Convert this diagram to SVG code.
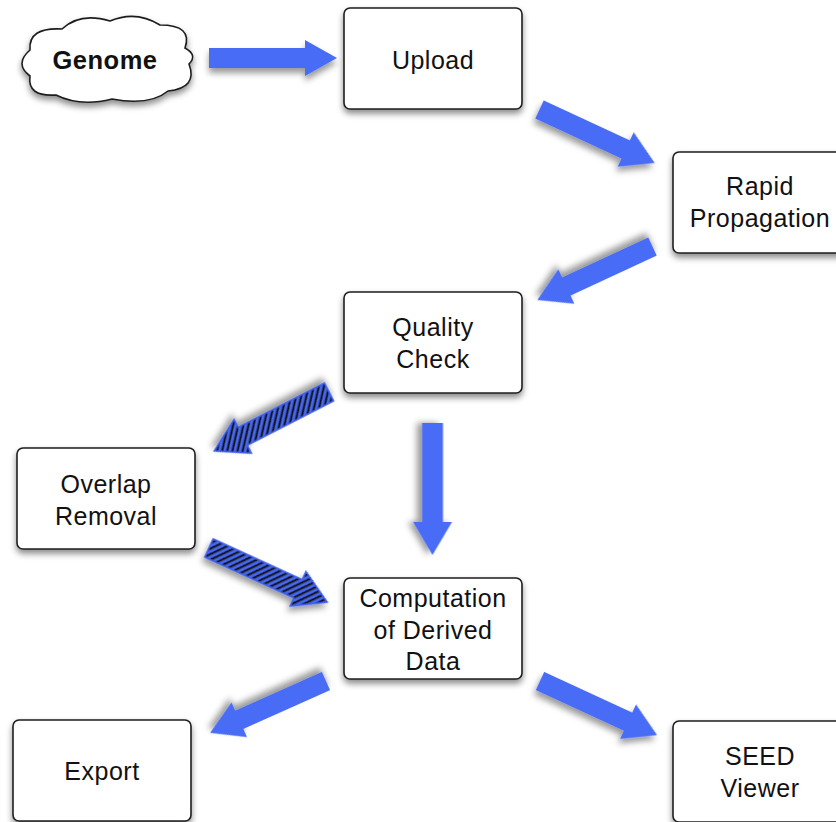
<svg xmlns="http://www.w3.org/2000/svg" width="836" height="822" viewBox="0 0 836 822">
<style>
.box{fill:#fff;stroke:#1e1e1e;stroke-width:1.6;filter:url(#sh)}
.lbl{font-family:"Liberation Sans",Arial,sans-serif;font-size:25px;letter-spacing:0.5px;fill:#111;text-anchor:middle}
.bold{font-weight:bold;font-size:25.5px}
.arr{fill:#4a6cf7;filter:url(#ash)}
.hat{fill:url(#hatch);stroke:#3a5cf0;stroke-width:1.5;filter:url(#ash)}
</style>
<defs>
<filter id="sh" x="-20%" y="-20%" width="140%" height="150%">
<feDropShadow dx="0" dy="4" stdDeviation="3" flood-color="#000" flood-opacity="0.45"/>
</filter>
<filter id="ash" x="-20%" y="-40%" width="140%" height="180%">
<feDropShadow dx="0" dy="5" stdDeviation="3" flood-color="#000" flood-opacity="0.4"/>
</filter>
<pattern id="hatch" width="5" height="5" patternUnits="userSpaceOnUse" patternTransform="rotate(40)">
<rect width="5" height="5" fill="#4a6cf7"/>
<rect width="2.3" height="5" fill="#111"/>
</pattern>
</defs>
<rect width="836" height="822" fill="#fff"/>
<g id="connectors">
<polygon class="arr" points="0,-10 96,-10 96,-18 128,0 96,18 96,10 0,10" transform="translate(209,58)"/>
<polygon class="arr" points="0,-10 95,-10 95,-19 127,0 95,19 95,10 0,10" transform="translate(539.5,109.5) rotate(24.9)"/>
<polygon class="arr" points="0,-10 95,-10 95,-19 127,0 95,19 95,10 0,10" transform="translate(652.5,246.5) rotate(155.1)"/>
<polygon class="hat" points="0,-10 97,-10 97,-19 129,0 97,19 97,10 0,10" transform="translate(329,392) rotate(152.8)"/>
<polygon class="arr" points="0,-10.5 99,-10.5 99,-19.5 132,0 99,19.5 99,10.5 0,10.5" transform="translate(432.5,423) rotate(90)"/>
<polygon class="hat" points="0,-10 98,-10 98,-19 130,0 98,19 98,10 0,10" transform="translate(209,548) rotate(24.6)"/>
<polygon class="arr" points="0,-10 95,-10 95,-19 127,0 95,19 95,10 0,10" transform="translate(326,681) rotate(155.9)"/>
<polygon class="arr" points="0,-10 97,-10 97,-19 129,0 97,19 97,10 0,10" transform="translate(540,681) rotate(24.8)"/>
</g>
<g id="genome">
<path class="box" d="M30,50 Q28,27 62,29 Q80,12 110,21 Q136,10 160,25 Q193,25 185,48 Q198,55 189,64 Q198,88 168,91 Q150,106 112,99 Q80,107 56,95 Q27,97 30,76 Q14,64 30,50 Z"/>
<text class="lbl bold" x="105" y="69">Genome</text>
</g>
<g id="upload">
<rect class="box" x="344" y="8" width="178" height="101" rx="6"/>
<text class="lbl" x="433" y="69">Upload</text>
</g>
<g id="rapid-propagation">
<rect class="box" x="673" y="152" width="178" height="101" rx="6"/>
<text class="lbl" x="760" y="195">Rapid</text>
<text class="lbl" x="760" y="227">Propagation</text>
</g>
<g id="quality-check">
<rect class="box" x="344" y="292" width="178" height="101" rx="6"/>
<text class="lbl" x="433" y="336">Quality</text>
<text class="lbl" x="433" y="368">Check</text>
</g>
<g id="overlap-removal">
<rect class="box" x="17" y="448" width="178" height="101" rx="6"/>
<text class="lbl" x="106" y="493">Overlap</text>
<text class="lbl" x="106" y="525">Removal</text>
</g>
<g id="computation">
<rect class="box" x="344" y="578" width="178" height="101" rx="6"/>
<text class="lbl" x="433" y="607">Computation</text>
<text class="lbl" x="433" y="639">of Derived</text>
<text class="lbl" x="433" y="670">Data</text>
</g>
<g id="export">
<rect class="box" x="13" y="720" width="178" height="101" rx="6"/>
<text class="lbl" x="102" y="780">Export</text>
</g>
<g id="seed-viewer">
<rect class="box" x="673" y="721" width="178" height="101" rx="6"/>
<text class="lbl" x="760" y="765">SEED</text>
<text class="lbl" x="760" y="797">Viewer</text>
</g>
</svg>
